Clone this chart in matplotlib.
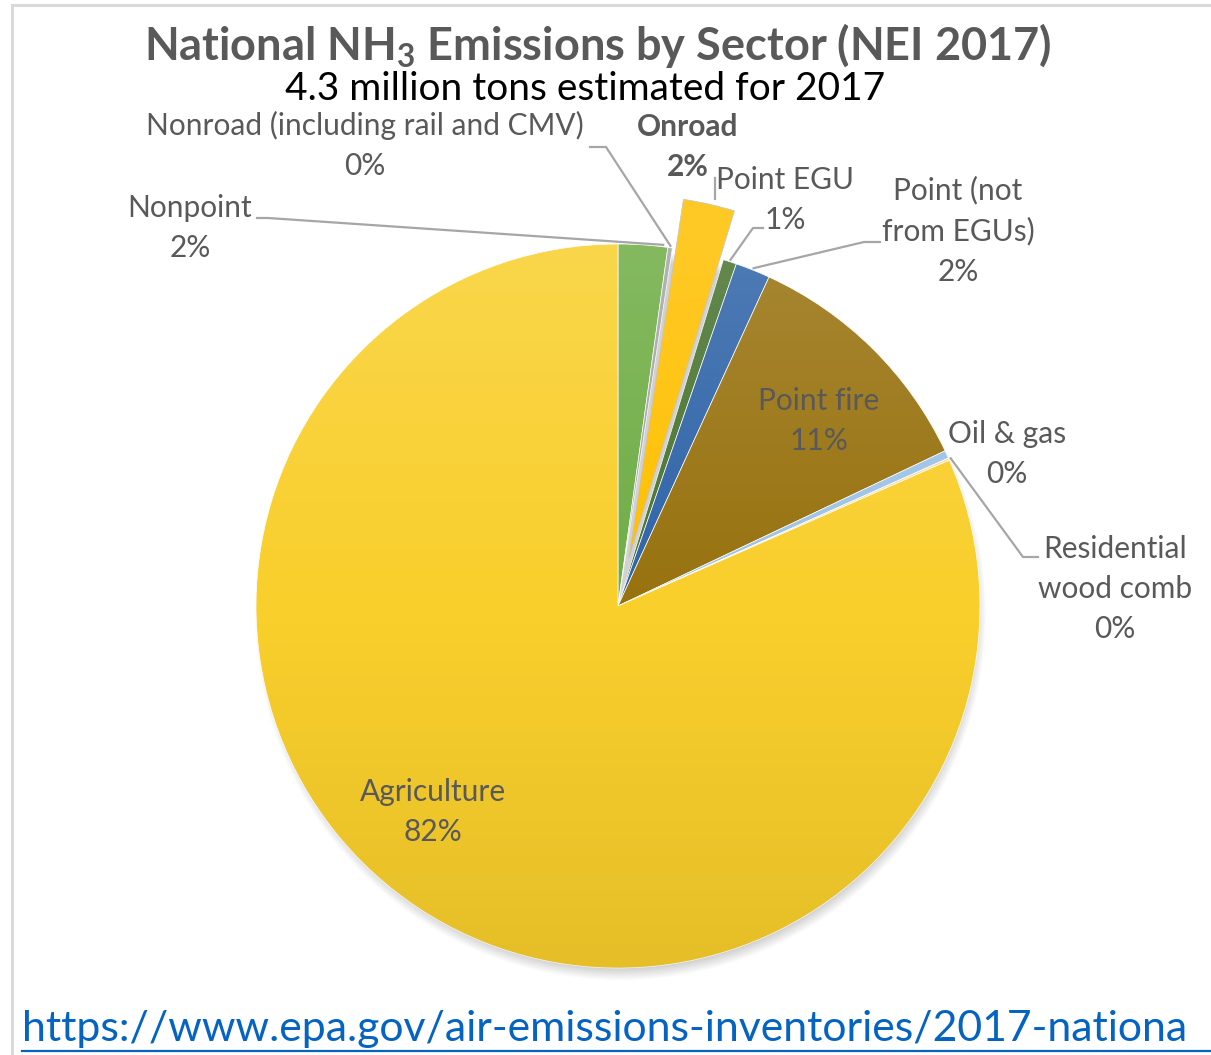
import numpy as np
import matplotlib
matplotlib.use("Agg")
import matplotlib.pyplot as plt
from matplotlib.patches import Rectangle
from matplotlib.lines import Line2D

# ---- data -------------------------------------------------------------
sectors = ["Nonpoint", "Nonroad (including rail and CMV)", "Onroad", "Point EGU",
           "Point (not\nfrom EGUs)", "Point fire", "Oil & gas",
           "Residential\nwood comb", "Agriculture"]
shares = [2.2, 0.2, 2.3, 0.6, 1.55, 11.1, 0.35, 0.1, 81.6]   # percent of 4.3 million tons
colors = ["#6FAD45", "#A5A5A5", "#FFC000", "#4A7430", "#2F64A8", "#98720F",
          "#9DC3E6", "#F3DFA0", "#F9CF2C"]
title = "National NH$_\\mathbf{3}$ Emissions by Sector (NEI 2017)"
subtitle = "4.3 million tons estimated for 2017"
url = "https://www.epa.gov/air-emissions-inventories/2017-nationa"

# ---- layout (pixel coordinates, y measured from the top) --------------
W, H = 1211, 1055
CX, CY, R = 618, 606, 362
ONROAD_PULL = 50

plt.rcParams["mathtext.fontset"] = "custom"
plt.rcParams["mathtext.rm"] = "Lato"
plt.rcParams["mathtext.bf"] = "Lato:bold"
FONT = ["Lato", "DejaVu Sans"]
GREY = "#595959"
LEADER = "#A6A6A6"

fig = plt.figure(figsize=(W / 100, H / 100), dpi=100)
ax = fig.add_axes([0, 0, 1, 1])


def Y(y):
    return H - y


explode = [ONROAD_PULL if s == "Onroad" else 0 for s in sectors]
wedges, _ = ax.pie(shares, colors=colors, startangle=90, counterclock=False,
                   center=(CX, Y(CY)), radius=R, explode=explode,
                   wedgeprops=dict(linewidth=0.5, edgecolor="white"))
for w in wedges:
    w.set_zorder(3)
wedges[sectors.index("Onroad")].set_edgecolor("#BFBFBF")

# soft drop shadow below the pie
yy, xx = np.mgrid[0:H, 0:W]
d = np.hypot(xx - (CX + 2), yy - (CY + 8))
alpha = np.clip((R + 4 - d) / 12.0, 0, 1) * 0.30
shadow = np.zeros((H, W, 4))
shadow[..., :3] = 0.4
shadow[..., 3] = alpha
ax.imshow(shadow, extent=(0, W, 0, H), origin="upper", zorder=1, interpolation="bilinear")

# gentle top-to-bottom shading over the slices
t = np.clip((yy - (CY - R)) / (2 * R), 0, 1)
light = np.clip(0.5 - t, 0, None) * 0.30
dark = np.clip(t - 0.5, 0, None) * 0.16
grad = np.zeros((H, W, 4))
grad[..., :3] = np.where((light > 0)[..., None], 1.0, 0.0)
grad[..., 3] = light + dark
for w in wedges:
    img = ax.imshow(grad, extent=(0, W, 0, H), origin="upper", zorder=4,
                    interpolation="bilinear")
    img.set_clip_path(w)

# slice geometry for leader lines
bounds = np.cumsum([0] + shares) / sum(shares) * 360.0


def edge_point(i, frac=0.5, r=R):
    ang = np.deg2rad(90 - (bounds[i] + frac * (bounds[i + 1] - bounds[i])))
    return CX + r * np.cos(ang), CY - r * np.sin(ang)


def leader(points):
    xs = [p[0] for p in points]
    ys = [Y(p[1]) for p in points]
    ax.add_line(Line2D(xs, ys, color=LEADER, lw=1.6, zorder=5))


def pct(i):
    return f"{shares[i]:.0f}%"


LS = 21.5
lab = dict(fontsize=LS, color=GREY, family=FONT, ha="center", va="center",
           zorder=6, linespacing=1.52)

# labels
ax.text(190, Y(228), f"{sectors[0]}\n{pct(0)}", **lab)
ax.text(365, Y(145), f"{sectors[1]}\n{pct(1)}", **lab)
ax.text(688, Y(127), sectors[2], fontweight="bold", **lab)
ax.text(688, Y(167), pct(2), fontweight="bold", **lab)
ax.text(785, Y(200), f"{sectors[3]}\n{pct(3)}", **lab)
ax.text(958, Y(231), f"{sectors[4]}\n{pct(4)}", **lab)
ax.text(819, Y(421), f"{sectors[5]}\n{pct(5)}", **lab)
ax.text(1007, Y(454), f"{sectors[6]}\n{pct(6)}", **lab)
ax.text(1115, Y(589), f"{sectors[7]}\n{pct(7)}", **lab)
ax.text(433, Y(812), f"{sectors[8]}\n{pct(8)}", **lab)

# leader lines
leader([(257, 218), (268, 218), edge_point(0, 0.9, R + 2)])
leader([(590, 147), (606, 147), edge_point(1, 0.5, R + 2)])
leader([(715, 178), (715, 199)])
leader([(763, 228), (753, 228), edge_point(3, 0.5, R + 2)])
leader([(880, 242), (864, 242), edge_point(4, 0.5, R + 2)])
leader([edge_point(7, 0.5, R + 2), (1023, 557), (1038, 557)])

# titles
ax.text(598, Y(45), title, fontsize=32.5, fontweight="bold", color=GREY,
        family=FONT, ha="center", va="center", zorder=6)
ax.text(585, Y(89), subtitle, fontsize=28, color="black", family=FONT,
        ha="center", va="center", zorder=6)

# light frame
ax.add_patch(Rectangle((12, Y(1060)), W + 20, 1055, fill=False,
                       edgecolor="#D9D9D9", lw=2.2, zorder=2))

# source link
ax.text(22, Y(1029), url, fontsize=30.8, color="#0563C1", family=FONT,
        ha="left", va="center", zorder=6)
ax.add_line(Line2D([22, W], [Y(1051), Y(1051)], color="#0563C1", lw=1.6, zorder=6))

ax.set_xlim(0, W)
ax.set_ylim(0, H)
ax.set_aspect("equal")
ax.axis("off")
fig.savefig("out.png", dpi=100)
